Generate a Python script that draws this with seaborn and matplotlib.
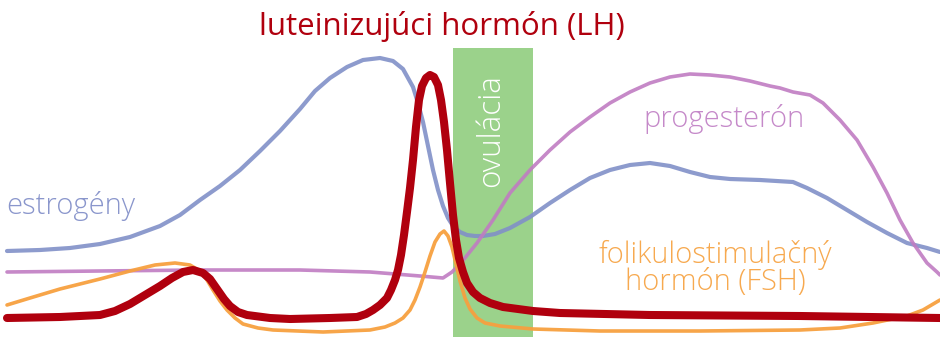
import numpy as np
import pandas as pd
import matplotlib
matplotlib.use("Agg")
import matplotlib.pyplot as plt
import seaborn as sns

# ---- data (horizontal position across the cycle, vertical position from top) ----
estrogen_x = [7, 40, 70, 100, 130, 160, 180, 200, 220, 240, 260, 280, 300, 315, 330, 347, 363, 380, 393, 403, 413, 418, 423, 428, 433, 438, 443, 448, 453, 460, 467, 475, 483, 495, 510, 530, 550, 570, 590, 610, 630, 650, 670, 690, 710, 730, 760, 793, 807, 827, 847, 867, 887, 907, 927, 940]
estrogen_y = [251, 250, 248, 244, 237, 226, 215, 200, 186, 170, 151, 131, 109, 91, 78, 67, 60, 58, 61, 69, 87, 103, 122, 146, 170, 190, 206, 218, 226, 232, 235, 236, 236, 234, 228, 217, 203, 190, 178, 170, 165, 163, 166, 172, 177, 179, 180, 182, 188, 198, 210, 222, 233, 243, 248, 252]

progesterone_x = [7, 100, 200, 300, 370, 420, 443, 452, 460, 477, 493, 510, 530, 550, 570, 590, 610, 630, 650, 670, 690, 710, 730, 750, 770, 780, 793, 810, 823, 840, 857, 873, 887, 900, 913, 927, 937, 940]
progesterone_y = [272, 271, 270, 270, 272, 276, 278, 272, 264, 243, 220, 193, 170, 150, 132, 117, 103, 92, 83, 77, 74, 75, 77, 81, 86, 88, 92, 95, 103, 120, 140, 167, 193, 220, 243, 263, 272, 275]

fsh_x = [7, 30, 60, 100, 130, 155, 175, 190, 200, 207, 213, 220, 227, 235, 243, 258, 273, 323, 370, 385, 395, 403, 410, 415, 420, 425, 430, 435, 440, 444, 448, 452, 456, 460, 465, 470, 477, 485, 500, 533, 600, 700, 800, 840, 873, 907, 923, 940]
fsh_y = [305, 298, 289, 279, 271, 265, 263, 265, 271, 280, 290, 301, 310, 318, 324, 328, 330, 332, 330, 327, 323, 318, 310, 300, 287, 272, 256, 242, 234, 231, 236, 247, 264, 281, 298, 309, 318, 323, 326, 329, 331, 331, 330, 328, 323, 316, 310, 300]

lh_x = [7, 60, 100, 115, 130, 145, 160, 172, 183, 193, 203, 210, 217, 224, 230, 238, 247, 270, 290, 330, 357, 366, 373, 380, 387, 391, 395, 398, 401, 404, 407, 410, 413, 416, 419, 422, 426, 430, 434, 438, 441, 444, 447, 450, 453, 456, 459, 463, 467, 473, 480, 490, 503, 533, 560, 650, 800, 940]
lh_y = [318, 317, 315, 311, 304, 295, 286, 278, 272, 270, 273, 279, 289, 299, 306, 312, 315, 318, 319, 318, 317, 314, 310, 305, 298, 290, 280, 270, 255, 235, 212, 188, 160, 127, 100, 86, 78, 75, 77, 85, 100, 122, 150, 183, 215, 240, 258, 272, 283, 292, 298, 303, 307, 311, 313, 315, 316, 318]

ovulation_span = [453, 533]
ovulation_top = 48

title = "luteinizujúci hormón (LH)"
label_estrogen = "estrogény"
label_progesterone = "progesterón"
label_fsh = ["folikulostimulačný", "hormón (FSH)"]
label_ovulation = "ovulácia"

# ---- styling ----
sns.set_theme(style="white")
plt.rcParams["font.family"] = ["Open Sans", "DejaVu Sans"]

c_blue = "#8190c8"
c_purple = "#c07cc2"
c_orange = "#f7a03f"
c_red = "#b0000e"
c_green = "#9bd28b"

fig = plt.figure(figsize=(9.4, 3.37), dpi=100)
ax = fig.add_axes([0, 0, 1, 1])

ax.fill_between(ovulation_span, [ovulation_top] * 2, [340] * 2, color=c_green, lw=0, zorder=1)
ax.text(sum(ovulation_span) / 2 - 2, 131, label_ovulation, rotation=90, color="white",
        ha="center", va="center", fontsize=22.5, fontweight="light", zorder=2)

def draw(x, y, color, lw, alpha, z):
    df = pd.DataFrame({"x": x, "y": y})
    sns.lineplot(data=df, x="x", y="y", ax=ax, color=color, lw=lw, alpha=alpha,
                 estimator=None, sort=False, zorder=z, solid_capstyle="round",
                 solid_joinstyle="round")

draw(estrogen_x, estrogen_y, c_blue, 3.0, 0.9, 3)
draw(progesterone_x, progesterone_y, c_purple, 2.6, 0.9, 4)
draw(fsh_x, fsh_y, c_orange, 2.6, 0.95, 5)
draw(lh_x, lh_y, c_red, 5.8, 1.0, 6)

ax.set_xlim(0, 940)
ax.set_ylim(337, 0)
ax.axis("off")

ax.text(442, 35, title, color=c_red, ha="center", va="baseline", fontsize=22.5)
ax.text(6, 214, label_estrogen, color="#8a96cc", ha="left", va="baseline", fontsize=21, fontweight="light")
ax.text(724, 127, label_progesterone, color="#c589c9", ha="center", va="baseline", fontsize=21, fontweight="light")
ax.text(715, 263, label_fsh[0], color="#f7a94f", ha="center", va="baseline", fontsize=21, fontweight="light")
ax.text(715, 290, label_fsh[1], color="#f7a94f", ha="center", va="baseline", fontsize=21, fontweight="light")

fig.savefig("out.png", dpi=100)
